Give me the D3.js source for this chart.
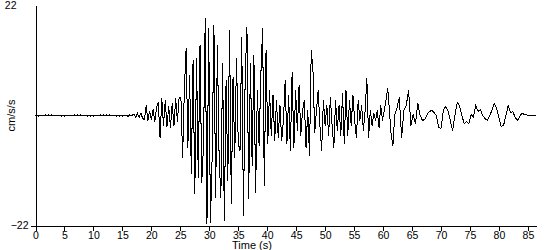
<!DOCTYPE html>
<html lang="en">
<head>
<meta charset="UTF-8" />
<title>Accelerogram</title>
<script src="https://cdn.jsdelivr.net/npm/d3@7"></script>
<style>
  body { margin: 0; background: #fff; }
  svg text { font-family: Arial, "Liberation Sans", sans-serif; font-size: 11px; fill: #000; }
  svg .tick text { font-size: 10.5px; }
</style>
</head>
<body>
<div id="chart"></div>
<script>
// acceleration in cm/s/s, sampled on a regular grid inside each phase
const preEvent = [0.0, 0.1, -0.1, 0.1, -0.1, 0.1, -0.1, 0.1, -0.1, 0.1, -0.1, 0.1,
  -0.1, 0.1, -0.1, 0.1, -0.1, 0.1, -0.1, 0.1, -0.1, 0.1, -0.1, 0.1, -0.1, 0.1,
  -0.1, 0.1, -0.1, 0.1, -0.1, 0.1, -0.1, 0.1, -0.1, 0.1, -0.1, 0.1, -0.1, 0.1,
  -0.1, 0.1, -0.1, 0.1, -0.1, 0.1, -0.1, 0.1, -0.1, 0.1, -0.1, 0.1, -0.1, 0.1,
  -0.1, 0.1, -0.1, 0.1, -0.1, 0.1, -0.1, 0.1, -0.1, 0.1, -0.2, 0.2, -0.1, 0.1];
const pWave = [0.2, -0.3, 0.4, -0.4, 0.5, -0.6, -0.8, 2.0, -1.0, 0.9, -0.9, 1.2,
  -1.2, 1.7, 2.7, -4.4, 3.4, -2.0, 3.0, -2.2, 1.9, -2.4, 2.4, -2.0, 3.4, -1.2, 3.7];
const strongMotion = [3.7, -8.4, 5.4, 13.4, -6.4, 8.0, -11.6, 11.0, -15.6, 11.4,
  -12.4, 14.0, -13.4, -6.0, 19.4, -21.6, 17.4, -21.4, -8.0, 18.0, -16.4, 14.0,
  -8.4, -16.4, 10.4, -21.0, 7.0, -13.0, 17.0, -17.6, 7.6, -8.4, 11.4, -5.6, -7.0,
  15.6, -20.0, 8.0, 17.6, -16.6, 10.4, -10.0, 12.0, -15.4, 5.0, -6.0, 8.0, 17.4,
  -14.0, 13.0];
const laterArrivals = [-5.6, 5.0, -4.0, 4.0, -5.0, 3.0, -4.4, 2.0, -5.0, -1.0,
  7.0, -5.6, 4.0, -7.0, 8.6, -6.4, 5.0, -3.0, 6.0, -4.0, 1.0, 3.0, -6.4, 1.0,
  -8.0, 13.0, 9.0, -3.4, 1.0, 5.0, -2.0, -7.0, 3.0, -2.0, 2.0, -4.0, 3.6, -2.0,
  -6.4, 3.0, -3.0, 2.0, -4.0, 4.4, -5.6, 5.0, -4.0, 3.0, -2.0, 4.0, -1.0, -4.4,
  3.0, -1.0, 2.0, -3.0, 1.0, 7.4, -4.4, 1.0, -2.0, 0.5, -1.0, 1.0, -2.4, 2.0,
  -1.0, 1.0, 3.0, 5.4, 1.0, -4.0, -6.0, 0.0];
const coda = [1.5, 3.6, -4.4, 1.0, 2.0, 5.0, -2.0, 0.2, -1.6, 2.4, 0.0, -1.0,
  -0.8, 0.2, 0.8, 1.0, 0.6, 0.0, -2.4, -2.6, 1.0, 1.8, 1.0, -1.0, -3.0, 0.0, 2.6,
  2.0, 0.0, -1.6, -1.2, -1.6, 0.2, -0.4, 2.0, 0.8, 1.2, 0.0, -0.6, -1.0, 0.0, 1.0,
  2.4, 1.5, -0.5, -2.2, -2.0, 0.0, 2.0, 0.6, 0.8, -0.4, -1.0, -0.2, 0.5, 0.2, 0.1,
  0.1, 0.1, 0.1, 0.1];

const phases = [
  { start: 0, step: 0.25, values: preEvent },
  { start: 17.0, step: 0.3, values: pWave },
  { start: 25.1, step: 0.3, values: strongMotion },
  { start: 40.1, step: 0.3, values: laterArrivals },
  { start: 62.4, step: 0.4, values: coda }
];

const timeTicks = [0, 5, 10, 15, 20, 25, 30, 35, 40, 45, 50, 55, 60, 65, 70, 75, 80, 85];
const accelTicks = [-22, 22];

const width = 550;
const height = 250;

const points = phases.flatMap((p) =>
  p.values.map((v, i) => ({ t: p.start + i * p.step, v }))
);

const x = d3.scaleLinear().domain([0, 86.4]).range([35.5, 536]);
const y = d3.scaleLinear().domain([-22, 22]).range([225.5, 5.5]);

const svg = d3
  .select("#chart")
  .append("svg")
  .attr("width", width)
  .attr("height", height);

// trace
svg
  .append("path")
  .datum(points)
  .attr("fill", "none")
  .attr("stroke", "#000")
  .attr("stroke-width", 1)
  .attr("shape-rendering", "crispEdges")
  .attr(
    "d",
    d3
      .line()
      .x((d) => x(d.t))
      .y((d) => y(d.v))
  );

// axes
const xAxis = svg
  .append("g")
  .attr("transform", `translate(0,${y(-22)})`)
  .attr("shape-rendering", "crispEdges")
  .call(d3.axisBottom(x).tickValues(timeTicks).tickSize(5).tickSizeOuter(0).tickPadding(1));

const yAxis = svg
  .append("g")
  .attr("transform", `translate(${x(0)},0)`)
  .attr("shape-rendering", "crispEdges")
  .call(d3.axisLeft(y).tickValues(accelTicks).tickSize(5).tickSizeOuter(0).tickPadding(2));

svg.selectAll(".domain, .tick line").attr("stroke", "#000");
svg.selectAll(".tick text").attr("font-size", null).attr("font-family", null);

// top label sits further left and has no tick mark
yAxis.selectAll(".tick").filter((d) => d === 22).select("line").remove();
yAxis.selectAll(".tick").filter((d) => d === 22).select("text").attr("x", -19);

svg
  .append("text")
  .attr("transform", `translate(15,${y(0)}) rotate(-90)`)
  .attr("text-anchor", "middle")
  .text("cm/s/s");

svg
  .append("text")
  .attr("x", 252)
  .attr("y", 249)
  .attr("text-anchor", "middle")
  .text("Time (s)");
</script>
</body>
</html>
